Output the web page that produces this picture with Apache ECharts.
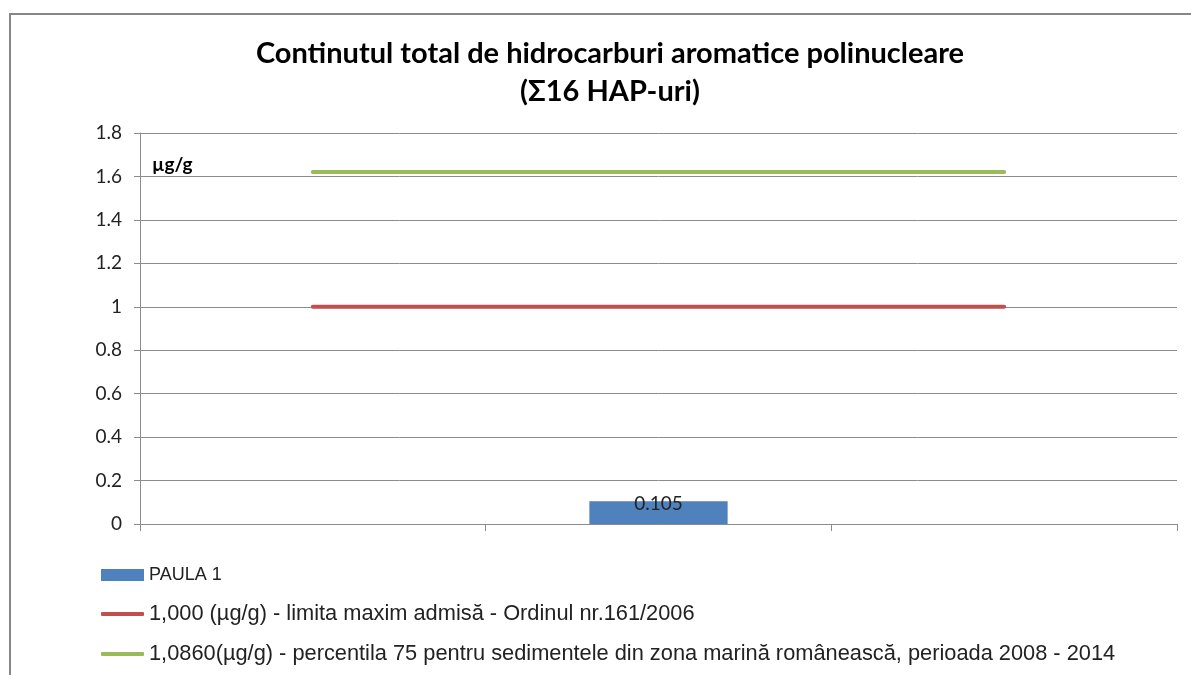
<!doctype html>
<html lang="ro">
<head>
    <meta charset="UTF-8">
    <title>HAP</title>
    <style>
        body { margin: 0; padding: 0; background: #fff; }
        #main { width: 1191px; height: 675px; }
    </style>
</head>
<body>
    <div id="main"></div>
    <script src="https://cdn.jsdelivr.net/npm/echarts@6.0.0/dist/echarts.min.js"></script>
    <script>
        // date
        var categories = ['st1', 'PAULA 1', 'st3'];
        var stationValues = ['-', 0.105, '-'];
        var limitValues = [1.0, 1.0, 1.0];
        var percentileValues = [1.62, 1.62, 1.62];
        var yTicks = { min: 0, max: 1.8, interval: 0.2 };

        var nameBar = 'PAULA 1';
        var nameLimit = '1,000 (µg/g) - limita maxim admisă - Ordinul nr.161/2006';
        var namePerc = '1,0860(µg/g) - percentila 75 pentru sedimentele din zona marină românească, perioada 2008 - 2014';

        var myChart = echarts.init(document.getElementById('main'));

        // o legenda separata pentru fiecare serie (marimi diferite ca in original)
        function legendFor(name, top, iconH, fontSize, icon) {
            return {
                orient: 'vertical',
                left: 101,
                top: top,
                padding: 0,
                itemWidth: 43,
                itemHeight: iconH,
                icon: icon,
                selectedMode: false,
                textStyle: { fontFamily: 'Liberation Sans', fontSize: fontSize, color: '#222' },
                data: [name]
            };
        }

        var option = {
            animation: false,
            title: {
                text: 'Continutul total de hidrocarburi aromatice polinucleare\n(Σ16 HAP-uri)',
                left: 605,
                top: 30,
                textAlign: 'center',
                textStyle: {
                    fontFamily: 'Lato',
                    fontWeight: 'bold',
                    fontSize: 29,
                    lineHeight: 38,
                    color: '#000'
                }
            },
            legend: [
                legendFor(nameBar, 566, 12, 18, 'rect'),
                legendFor(nameLimit, 603, 4, 21.8, 'roundRect'),
                legendFor(namePerc, 643, 4, 21.8, 'roundRect')
            ],
            grid: { left: 140, right: 14, top: 133, bottom: 151 },
            xAxis: {
                type: 'category',
                data: categories,
                axisLine: { lineStyle: { color: '#8c8c8c', width: 1 } },
                axisTick: { show: true, length: 7, lineStyle: { color: '#8c8c8c' } },
                axisLabel: { show: false }
            },
            yAxis: {
                type: 'value',
                min: yTicks.min,
                max: yTicks.max,
                interval: yTicks.interval,
                axisLine: { show: true, lineStyle: { color: '#8c8c8c', width: 1 } },
                axisTick: { show: true, length: 6, lineStyle: { color: '#8c8c8c' } },
                axisLabel: {
                    margin: 18,
                    fontFamily: 'Lato',
                    fontSize: 19,
                    color: '#222',
                    formatter: function (v) { return String(Math.round(v * 10) / 10); }
                },
                splitLine: { lineStyle: { color: '#8c8c8c', width: 1 } }
            },
            graphic: [
                {
                    type: 'rect',
                    shape: { x: 10, y: 14, width: 1200, height: 700 },
                    style: { fill: 'none', stroke: '#868686', lineWidth: 2 },
                    silent: true
                },
                {
                    type: 'text',
                    left: 152,
                    top: 155,
                    style: {
                        text: 'µg/g',
                        fontFamily: 'Lato',
                        fontWeight: 'bold',
                        fontSize: 19,
                        fill: '#000'
                    }
                }
            ],
            series: [
                {
                    name: nameBar,
                    type: 'bar',
                    data: stationValues,
                    barWidth: '40%',
                    itemStyle: { color: '#4f81bd' },
                    label: {
                        show: true,
                        position: 'insideTop',
                        offset: [0, -12],
                        fontFamily: 'Lato',
                        fontSize: 19,
                        color: '#222'
                    }
                },
                {
                    name: nameLimit,
                    type: 'line',
                    data: limitValues,
                    symbol: 'none',
                    color: '#c0504d',
                    lineStyle: { color: '#c0504d', width: 4, cap: 'round' }
                },
                {
                    name: namePerc,
                    type: 'line',
                    data: percentileValues,
                    symbol: 'none',
                    color: '#9bbb59',
                    lineStyle: { color: '#9bbb59', width: 4, cap: 'round' }
                }
            ]
        };
        myChart.setOption(option);
    </script>
</body>
</html>
